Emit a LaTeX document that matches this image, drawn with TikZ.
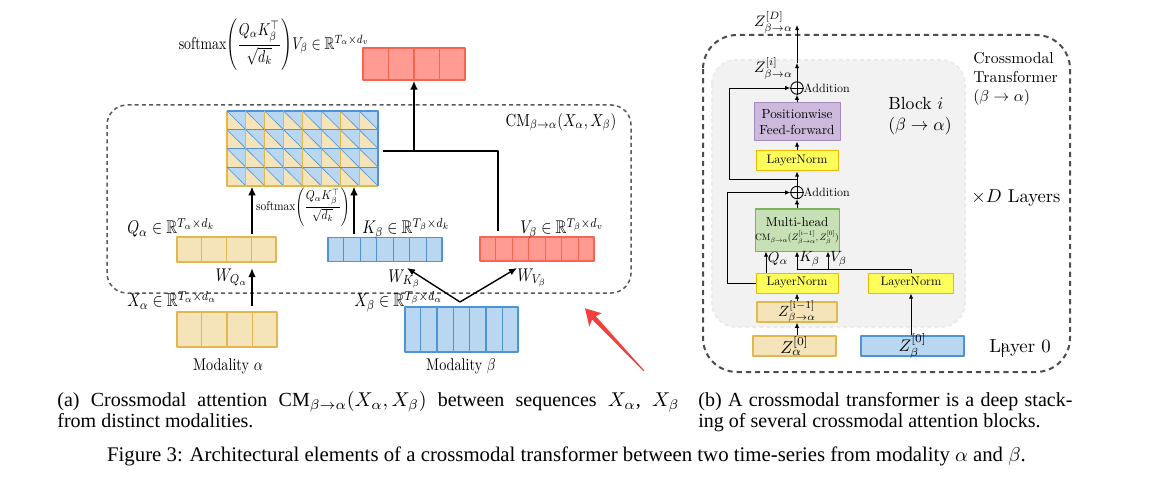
\documentclass[tikz,border=0pt]{standalone}
\usepackage{amsmath,amssymb}
\usepackage{fontspec}
\newfontfamily\capfont{Liberation Serif}
\usetikzlibrary{arrows.meta, calc, positioning}

\definecolor{qfill}{HTML}{F5E4B9}
\definecolor{qline}{HTML}{E2B84E}
\definecolor{kfill}{HTML}{B9D7F0}
\definecolor{kline}{HTML}{4D93D5}
\definecolor{vfill}{HTML}{FF9B92}
\definecolor{vline}{HTML}{F66452}
\definecolor{lnfill}{HTML}{FFFF5C}
\definecolor{lnline}{HTML}{F2B705}
\definecolor{fffill}{HTML}{CDB9DC}
\definecolor{ffline}{HTML}{A48BBE}
\definecolor{mhfill}{HTML}{C7E0B6}
\definecolor{mhline}{HTML}{79B55A}
\definecolor{blkfill}{HTML}{F2F2F2}
\definecolor{hand}{HTML}{F43F3F}

\begin{document}
\begin{tikzpicture}[x=0.5pt, y=-0.5pt, line join=round,
    frame/.style={draw=black!65, line width=0.75pt, dash pattern=on 2pt off 1.6pt, rounded corners=10pt},
    qbox/.style={draw=qline, fill=qfill, line width=0.6pt, inner sep=0pt},
    kbox/.style={draw=kline, fill=kfill, line width=0.6pt, inner sep=0pt},
    vbox/.style={draw=vline, fill=vfill, line width=0.6pt, inner sep=0pt},
    lnbox/.style={draw=lnline, fill=lnfill, line width=0.5pt, inner sep=0pt, minimum width=41pt, minimum height=10pt},
    addc/.style={circle, draw, line width=0.45pt, minimum size=6.2pt, inner sep=0pt},
    txt/.style={inner sep=0pt, transform shape},
    lbl/.style={txt, xscale=0.755, yscale=0.92},
    modlbl/.style={txt, xscale=0.71, yscale=0.85},
    bigarr/.style={line width=1.2pt, -{Latex[length=4.5pt, width=3.8pt]}},
    midarr/.style={line width=0.7pt, -{Latex[length=4pt, width=3.4pt]}},
    arr/.style={line width=0.45pt, -{Latex[length=2.6pt, width=2.2pt]}}]
  \useasboundingbox (0,0) rectangle (1152,481);

  % (a) crossmodal attention
  \draw[frame] (107,105) rectangle (631,293);
  \node[txt, xscale=0.74, yscale=0.87] (cml) at (561,122) {$\mathrm{CM}_{\beta\rightarrow\alpha}(X_\alpha, X_\beta)$};

  \node[qbox, minimum width=50pt, minimum height=17.5pt] (xa) at (227,329.5) {};
  \node[kbox, minimum width=56.5pt, minimum height=22.5pt] (xb) at (461.5,329.5) {};
  \node[qbox, minimum width=49.5pt, minimum height=12.5pt] (q) at (226.5,249.5) {};
  \node[kbox, minimum width=57pt, minimum height=12pt] (k) at (385,249.5) {};
  \node[vbox, minimum width=57pt, minimum height=12pt] (v) at (537,249) {};
  \node[vbox, minimum width=51pt, minimum height=16pt] (out) at (414,64) {};
  \foreach \n in {q,xa} \foreach \i in {1,2,3}
    \draw[qline, line width=0.6pt] ($(\n.north west)!\i/4!(\n.north east)$) -- ($(\n.south west)!\i/4!(\n.south east)$);
  \foreach \n in {k,xb} \foreach \i in {1,...,6}
    \draw[kline, line width=0.6pt] ($(\n.north west)!\i/7!(\n.north east)$) -- ($(\n.south west)!\i/7!(\n.south east)$);
  \foreach \i in {1,...,6}
    \draw[vline, line width=0.6pt] ($(v.north west)!\i/7!(v.north east)$) -- ($(v.south west)!\i/7!(v.south east)$);
  \foreach \i in {1,2,3}
    \draw[vline, line width=0.6pt] ($(out.north west)!\i/4!(out.north east)$) -- ($(out.south west)!\i/4!(out.south east)$);

  % attention map
  \node[inner sep=0pt, minimum width=75.5pt, minimum height=37.5pt] (attn) at (302.5,148.5) {};
  \begin{scope}[shift={(227,111)}, x=9.4375pt, y=-9.375pt]
    \foreach \i in {0,...,7} \foreach \j in {0,...,3} {
      \fill[qfill] (\i,\j) -- (\i,\j+1) -- (\i+1,\j+1) -- cycle;
      \fill[kfill] (\i,\j) -- (\i+1,\j) -- (\i+1,\j+1) -- cycle;
      \draw[kline, line width=0.3pt] (\i,\j) -- (\i+1,\j+1);
      \draw[qline, line width=0.55pt] (\i,\j) -- (\i,\j+1) -- (\i+1,\j+1);
      \draw[kline, line width=0.55pt] (\i,\j) -- (\i+1,\j) -- (\i+1,\j+1);
    }
  \end{scope}

  \node[txt, xscale=0.69, yscale=0.86] (outl) at (274,45) {$\mathrm{softmax}\!\left(\dfrac{Q_\alpha K_\beta^{\top}}{\sqrt{d_k}}\right)\!V_\beta \in \mathbb{R}^{T_\alpha\times d_v}$};
  \node[txt, xscale=0.57, yscale=0.64] (smx) at (303,207) {$\mathrm{softmax}\!\left(\dfrac{Q_\alpha K_\beta^{\top}}{\sqrt{d_k}}\right)$};
  \node[lbl, anchor=base west] (ql) at (127,234) {$Q_\alpha \in \mathbb{R}^{T_\alpha\times d_k}$};
  \node[lbl, anchor=base west] (kl) at (362,234) {$K_\beta \in \mathbb{R}^{T_\beta\times d_k}$};
  \node[lbl, anchor=base west] (vl) at (520,234) {$V_\beta \in \mathbb{R}^{T_\beta\times d_v}$};
  \node[lbl, anchor=base west] (xal) at (127,307) {$X_\alpha \in \mathbb{R}^{T_\alpha\times d_\alpha}$};
  \node[lbl, anchor=base west] (xbl) at (354,307) {$X_\beta \in \mathbb{R}^{T_\beta\times d_\alpha}$};
  \node[lbl, anchor=base east] (wql) at (248,281) {$W_{Q_\alpha}$};
  \node[lbl, anchor=base west] (wkl) at (388,282) {$W_{K_\beta}$};
  \node[lbl, anchor=base west] (wvl) at (517,281) {$W_{V_\beta}$};
  \node[modlbl] (moda) at (228,366) {Modality $\alpha$};
  \node[modlbl] (modb) at (461,366) {Modality $\beta$};

  \coordinate (xq) at (252,306);
  \coordinate (qb) at (252,268);
  \coordinate (qa) at (252,234);
  \coordinate (ka) at (354,234);
  \coordinate (ge) at (383,151);
  \coordinate (vt) at (498,231);
  \coordinate (fork) at (460,302);
  \coordinate (kin) at (407,268);
  \coordinate (vin) at (517,268);
  \draw[bigarr] (xq) -- (qb);
  \draw[bigarr] (qa) -- (qa |- attn.south);
  \draw[bigarr] (ka) -- (ka |- attn.south);
  \draw[line width=1.2pt] (ge) -| (vt);
  \draw[bigarr] (out.south |- ge) -- (out.south);
  \draw[midarr] (fork) -- (kin);
  \draw[midarr] (fork) -- (vin);

  % pointer
  \fill[hand] (585,308.3) -- (601.7,313.3) -- (595.7,316.1) -- (644.4,370.6) -- (643.6,371.2) -- (592.1,319.5) -- (589.3,326.7) -- cycle;

  % (b) crossmodal transformer
  \draw[draw=black!70, line width=1pt, dash pattern=on 2.6pt off 2pt, rounded corners=17pt] (703,35) rectangle (1070,372);
  \draw[draw=black!8, fill=blkfill, line width=1pt, dash pattern=on 2pt off 1.5pt, rounded corners=12pt] (712,60) rectangle (965,327);

  \node[qbox, minimum width=41.5pt, minimum height=10pt] (za0) at (794.5,346) {};
  \node[kbox, minimum width=51.5pt, minimum height=10pt] (zb0) at (912.5,346) {};
  \node[qbox, minimum width=40pt, minimum height=10pt] (zprev) at (797,312) {};
  \node[lnbox] (ln1) at (797,283) {};
  \node[lnbox, minimum width=42.5pt] (lnb) at (911,283) {};
  \node[draw=mhline, fill=mhfill, line width=0.5pt, inner sep=0pt, minimum width=42pt, minimum height=21pt] (mh) at (797,230) {};
  \node[lnbox] (ln2) at (797,161) {};
  \node[draw=ffline, fill=fffill, line width=0.5pt, inner sep=0pt, minimum width=43pt, minimum height=19pt] (ff) at (797,122) {};
  \node[addc] (add1) at (797,192.5) {};
  \node[addc] (add2) at (797,88) {};
  \foreach \n in {add1,add2}
    \draw[line width=0.45pt] (\n.north) -- (\n.south) (\n.west) -- (\n.east);

  \node[txt, scale=0.86] (za0t) at (za0) {$Z_\alpha^{[0]}$};
  \node[txt, scale=0.84] (zb0t) at (zb0) {$Z_\beta^{[0]}$};
  \node[txt, scale=0.74] (zprevt) at (zprev) {$Z^{[\mathrm{i}-1]}_{\beta\rightarrow\alpha}$};
  \node[txt, scale=0.62] (ln1t) at (ln1) {LayerNorm};
  \node[txt, scale=0.62] (lnbt) at (lnb) {LayerNorm};
  \node[txt, scale=0.62] (ln2t) at (ln2) {LayerNorm};
  \node[txt, scale=0.65] (mht) at (797,222) {Multi-head};
  \node[txt, scale=0.47] (mhc) at (797,238) {$\mathrm{CM}_{\beta\rightarrow\alpha}(Z^{[\mathrm{i}-1]}_{\beta\rightarrow\alpha}, Z^{[0]}_{\beta})$};
  \node[txt, scale=0.66, align=center] (fft) at (ff) {Positionwise\\Feed-forward};
  \node[txt, scale=0.6, anchor=west] (a1l) at (803.5,192.5) {Addition};
  \node[txt, scale=0.6, anchor=west] (a2l) at (803.5,88) {Addition};

  \coordinate (qin) at (766,273);
  \coordinate (kv) at (797,269);
  \coordinate (va) at (828,269);
  \coordinate (sk) at (797,179);
  \coordinate (zi) at (797,63);
  \coordinate (zd) at (797,25);
  \draw[arr] (za0.north -| zprev.south) -- (zprev.south);
  \draw[arr] (zprev.north) -- (ln1.south);
  \draw[arr] (zb0.north -| lnb.south) -- (lnb.south);
  \draw[arr] (qin) -- (qin |- mh.south);
  \draw[line width=0.45pt] (lnb.north) |- (kv);
  \draw[arr] (kv) -- (kv |- mh.south);
  \draw[arr] (va) -- (va |- mh.south);
  \draw[arr] (ln1.west) -- ++(-28,0) |- (add1.west);
  \draw[arr] (mh.north) -- (add1.south);
  \draw[arr] (add1.north) -- (ln2.south);
  \draw[arr] (sk) -- ++(-68,0) |- (add2.west);
  \draw[arr] (ln2.north) -- (ff.south);
  \draw[arr] (ff.north) -- (add2.south);
  \draw[arr] (add2.north) -- (zi);
  \draw[arr] (zi) -- (zd);

  \node[txt, scale=0.74, anchor=west] (qlb) at (767.5,259) {$Q_\alpha$};
  \node[txt, scale=0.74, anchor=west] (klb) at (799,259) {$K_\beta$};
  \node[txt, scale=0.74, anchor=west] (vlb) at (830,259) {$V_\beta$};
  \node[txt, scale=0.76, anchor=base east] (zil) at (793,73) {$Z^{[i]}_{\beta\rightarrow\alpha}$};
  \node[txt, scale=0.76, anchor=base east] (zdl) at (793,27) {$Z^{[D]}_{\beta\rightarrow\alpha}$};
  \node[txt, scale=0.79, anchor=north west, align=left] (tfl) at (973,52) {Crossmodal\\Transformer\\$(\beta\rightarrow\alpha)$};
  \node[txt, scale=0.88, anchor=north west, align=left] (blkl) at (888,97) {Block $i$\\$(\beta\rightarrow\alpha)$};
  \node[txt, scale=0.93, anchor=base west] (xdl) at (971,203) {$\times D$ Layers};
  \node[txt, scale=0.94, anchor=base west] (l0l) at (989,352) {Layer 0};
  \draw[line width=0.4pt] (1002,343) -- (1002,357);

  % captions
  \node[inner sep=0pt, anchor=base west, font=\capfont\fontsize{10}{10.5}\selectfont] (capa) at (57,406.5)
    {\parbox[t]{311pt}{(a) Crossmodal attention $\text{CM}_{\beta\rightarrow\alpha}(X_\alpha, X_\beta)$ between sequences $X_\alpha$,~$X_\beta$\linebreak from distinct modalities.}};
  \node[inner sep=0pt, anchor=base west, font=\capfont\fontsize{10}{10.5}\selectfont] (capb) at (698,406.5)
    {\parbox[t]{187pt}{(b) A crossmodal transformer is a deep stack-\linebreak ing of several crossmodal attention blocks.}};
  \node[inner sep=0pt, anchor=base, font=\capfont\fontsize{10.4}{12}\selectfont] (cap) at (566.5,461)
    {Figure 3: Architectural elements of a crossmodal transformer between two time-series from modality $\alpha$ and $\beta$.};
\end{tikzpicture}
\end{document}
